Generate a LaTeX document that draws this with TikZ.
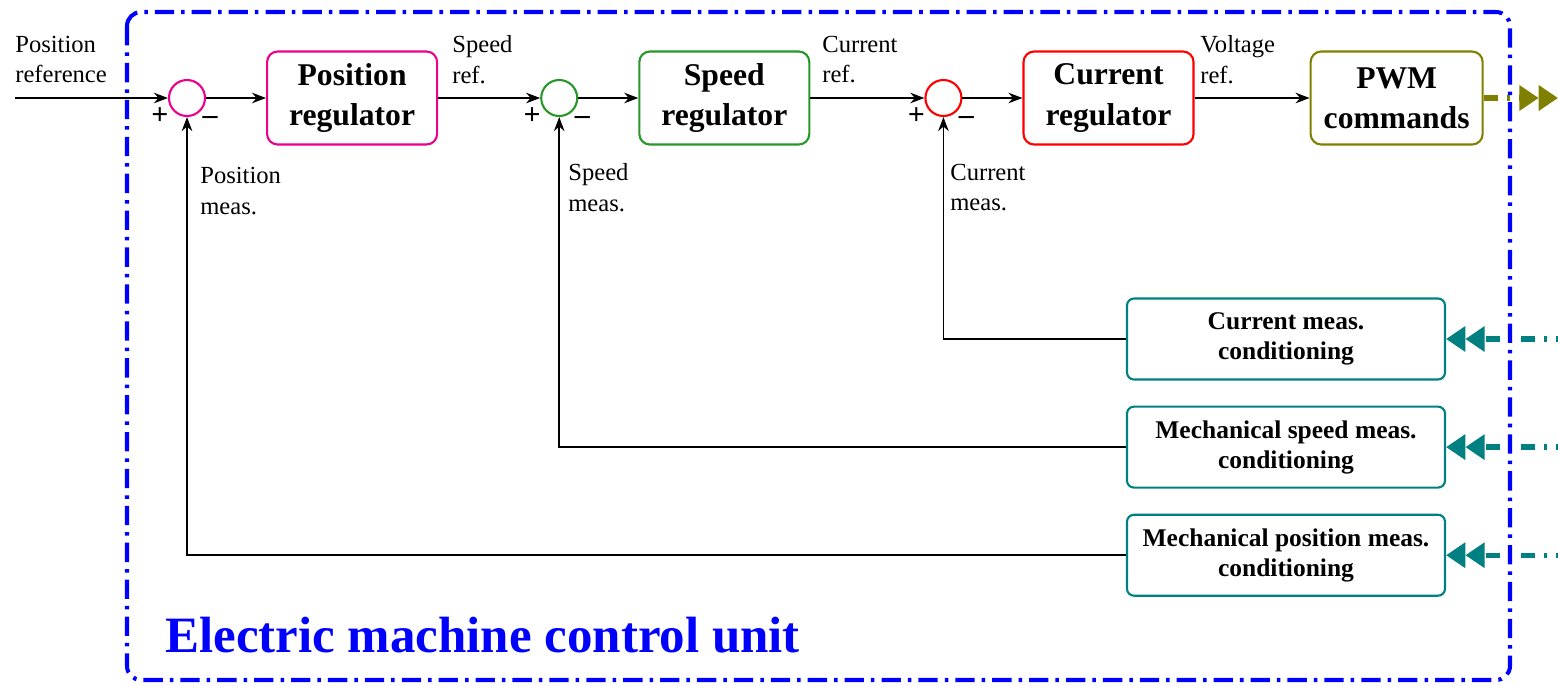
\documentclass[tikz,border=0pt]{standalone}
\usepackage{fontspec}
\setmainfont{Liberation Serif}
\usepackage{xcolor}
\usepackage{tikz}
\usetikzlibrary{arrows.meta, positioning, calc}
\definecolor{olivebox}{RGB}{128,128,0}
\definecolor{tealbox}{RGB}{0,128,128}
\definecolor{greenbox}{RGB}{40,150,40}

\begin{document}
\begin{tikzpicture}[
    reg/.style={rectangle, rounded corners=6pt, line width=1.2pt, fill=white,
                minimum width=3.4cm, minimum height=1.86cm, align=center,
                font=\fontsize{18}{23}\selectfont\bfseries},
    sum/.style={circle, line width=1.2pt, minimum size=0.72cm, inner sep=0pt},
    cond/.style={rectangle, rounded corners=4pt, draw=tealbox, line width=1.2pt,
                 minimum width=6.36cm, minimum height=1.62cm, align=center,
                 font=\fontsize{14.5}{17}\selectfont\bfseries},
    lbl/.style={anchor=west, align=left, inner sep=0pt, font=\fontsize{14}{17.5}\selectfont},
    sgn/.style={inner sep=0pt, font=\fontsize{17}{17}\selectfont\bfseries},
    arrow/.style={-{Stealth[length=8pt,width=6pt]}, line width=1pt},
    bus/.style={line width=3pt, dash pattern=on 8pt off 5pt on 2pt off 5pt,
                -{Triangle[length=11pt,width=14pt]Triangle[length=11pt,width=14pt]}}
]
    \useasboundingbox (0,0) rectangle (31.16,-13.7);

    % forward path
    \node[sum, draw=magenta] (s1) at (3.74,-1.96) {};
    \node[reg, draw=magenta, right=1.2cm of s1] (posreg) {Position\\regulator};
    \node[sum, draw=greenbox, right=2.04cm of posreg] (s2) {};
    \node[reg, draw=greenbox, right=1.2cm of s2] (spdreg) {Speed\\regulator};
    \node[sum, draw=red, right=2.28cm of spdreg] (s3) {};
    \node[reg, draw=red, right=1.2cm of s3] (curreg) {Current\\regulator};
    \node[reg, draw=olivebox, minimum width=3.44cm, right=2.3cm of curreg] (pwm) {PWM\\commands};

    % measurement conditioning
    \node[cond] (curcond) at (25.72,-6.78) {Current meas.\\conditioning};
    \node[cond, below=0.5cm of curcond] (spdcond) {Mechanical speed meas.\\conditioning};
    \node[cond, below=0.5cm of spdcond] (poscond) {Mechanical position meas.\\conditioning};

    % signal labels
    \node[lbl] (posref) at (0.3,-1.19) {Position\\reference};
    \node[lbl] (spdref) at (9.04,-1.19) {Speed\\ref.};
    \node[lbl] (curref) at (16.44,-1.19) {Current\\ref.};
    \node[lbl] (volref) at (24.0,-1.19) {Voltage\\ref.};
    \node[lbl] (posmeas) at (4.0,-3.82) {Position\\meas.};
    \node[lbl] (spdmeas) at (11.36,-3.75) {Speed\\meas.};
    \node[lbl] (curmeas) at (19.0,-3.75) {Current\\meas.};

    % signs
    \node[sgn] (p1) at ($(s1)+(-0.54,-0.36)$) {+};
    \node[sgn] (m1) at ($(s1)+(0.46,-0.44)$) {–};
    \node[sgn] (p2) at ($(s2)+(-0.54,-0.36)$) {+};
    \node[sgn] (m2) at ($(s2)+(0.46,-0.44)$) {–};
    \node[sgn] (p3) at ($(s3)+(-0.54,-0.36)$) {+};
    \node[sgn] (m3) at ($(s3)+(0.46,-0.44)$) {–};

    \coordinate (in) at (0.3,-1.96);
    \coordinate (out) at (31.16,-1.96);
    \coordinate (curin) at (31.4,-6.78);
    \coordinate (spdin) at (spdcond.east -| curin);
    \coordinate (posin) at (poscond.east -| curin);

    \draw[arrow] (in) -- (s1);
    \draw[arrow] (s1) -- (posreg);
    \draw[arrow] (posreg) -- (s2);
    \draw[arrow] (s2) -- (spdreg);
    \draw[arrow] (spdreg) -- (s3);
    \draw[arrow] (s3) -- (curreg);
    \draw[arrow] (curreg) -- (pwm);

    \draw[arrow] (curcond.west) -| (s3.south);
    \draw[arrow] (spdcond.west) -| (s2.south);
    \draw[arrow] (poscond.west) -| (s1.south);

    \draw[bus, olivebox] (pwm.east) -- (out);
    \draw[bus, tealbox] (curin) -- (curcond.east);
    \draw[bus, tealbox] (spdin) -- (spdcond.east);
    \draw[bus, tealbox] (posin) -- (poscond.east);

    % control unit frame
    \draw[blue, line width=2.3pt, rounded corners=8pt,
          dash pattern=on 11pt off 4pt on 2pt off 4pt] (2.54,-0.24) rectangle (30.2,-13.6);
    \node[anchor=west, inner sep=0pt, text=blue, font=\fontsize{29}{34}\selectfont\bfseries]
        (ecu) at (3.3,-12.7) {Electric machine control unit};
\end{tikzpicture}
\end{document}
